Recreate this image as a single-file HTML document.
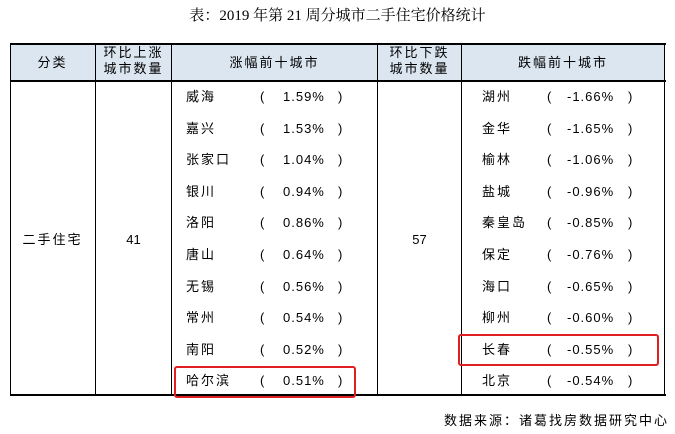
<!DOCTYPE html>
<html><head><meta charset="utf-8"><style>
body{margin:0;width:675px;height:434px;background:#fff;position:relative;font-family:"Liberation Sans","Noto Sans CJK SC",sans-serif;color:#000;overflow:hidden}
.a{position:absolute;white-space:nowrap;font-size:13px;line-height:16px}
.l{position:absolute;background:#000}
.c{letter-spacing:2px}
</style></head><body>
<div class="a" style="left:0;width:675px;top:8px;text-align:center;font-size:15px;font-family:'Liberation Serif','Noto Serif CJK SC',serif">表：2019 年第 21 周分城市二手住宅价格统计</div>
<div style="position:absolute;left:10px;top:43px;width:655px;height:37px;background:#dce6f1"></div>
<!-- horizontal lines -->
<div class="l" style="left:10px;top:43px;width:656px;height:2px"></div>
<div class="l" style="left:10px;top:80px;width:656px;height:2px"></div>
<div class="l" style="left:10px;top:394px;width:656px;height:2px"></div>
<!-- vertical -->
<div class="l" style="left:10px;top:43px;width:1px;height:352px"></div>
<div class="l" style="left:95px;top:43px;width:1px;height:352px"></div>
<div class="l" style="left:171px;top:43px;width:1px;height:352px"></div>
<div class="l" style="left:377px;top:43px;width:1px;height:352px"></div>
<div class="l" style="left:461px;top:43px;width:1px;height:352px"></div>
<div class="l" style="left:664px;top:43px;width:1px;height:352px"></div>
<!-- header -->
<div class="a c" style="left:10px;width:85px;top:55px;text-align:center">分类</div>
<div class="a c" style="left:96px;width:75px;top:45px;text-align:center">环比上涨<br>城市数量</div>
<div class="a c" style="left:172px;width:205px;top:55px;text-align:center">涨幅前十城市</div>
<div class="a c" style="left:378px;width:83px;top:45px;text-align:center">环比下跌<br>城市数量</div>
<div class="a c" style="left:462px;width:202px;top:55px;text-align:center">跌幅前十城市</div>
<div class="a c" style="left:10px;width:85px;top:232px;text-align:center">二手住宅</div>
<div class="a" style="left:96px;width:75px;top:232px;text-align:center">41</div>
<div class="a" style="left:378px;width:83px;top:232px;text-align:center">57</div>
<div id="rows"></div>
<div style="position:absolute;left:174px;top:366px;width:178px;height:28px;border:2px solid #e02020;border-radius:3px"></div>
<div style="position:absolute;left:458px;top:334px;width:197px;height:28px;border:2px solid #e02020;border-radius:3px"></div>
<div class="a c" style="right:6px;top:413px;font-size:13px">数据来源：诸葛找房数据研究中心</div>
<script>
var L=[["威海","1.59%"],["嘉兴","1.53%"],["张家口","1.04%"],["银川","0.94%"],["洛阳","0.86%"],["唐山","0.64%"],["无锡","0.56%"],["常州","0.54%"],["南阳","0.52%"],["哈尔滨","0.51%"]];
var R=[["湖州","-1.66%"],["金华","-1.65%"],["榆林","-1.06%"],["盐城","-0.96%"],["秦皇岛","-0.85%"],["保定","-0.76%"],["海口","-0.65%"],["柳州","-0.60%"],["长春","-0.55%"],["北京","-0.54%"]];
var h="";
for(var i=0;i<10;i++){var y=89+i*31.6;
h+='<div class="a c" style="left:186px;top:'+y+'px">'+L[i][0]+'</div><div class="a" style="left:260px;top:'+y+'px">(</div><div class="a" style="left:283px;top:'+y+'px;letter-spacing:1px">'+L[i][1]+'</div><div class="a" style="left:338px;top:'+y+'px">)</div>';
h+='<div class="a c" style="left:482px;top:'+y+'px">'+R[i][0]+'</div><div class="a" style="left:547px;top:'+y+'px">(</div><div class="a" style="left:567px;top:'+y+'px;letter-spacing:1px">'+R[i][1]+'</div><div class="a" style="left:628px;top:'+y+'px">)</div>';}
document.getElementById("rows").innerHTML=h;
</script>
</body></html>
